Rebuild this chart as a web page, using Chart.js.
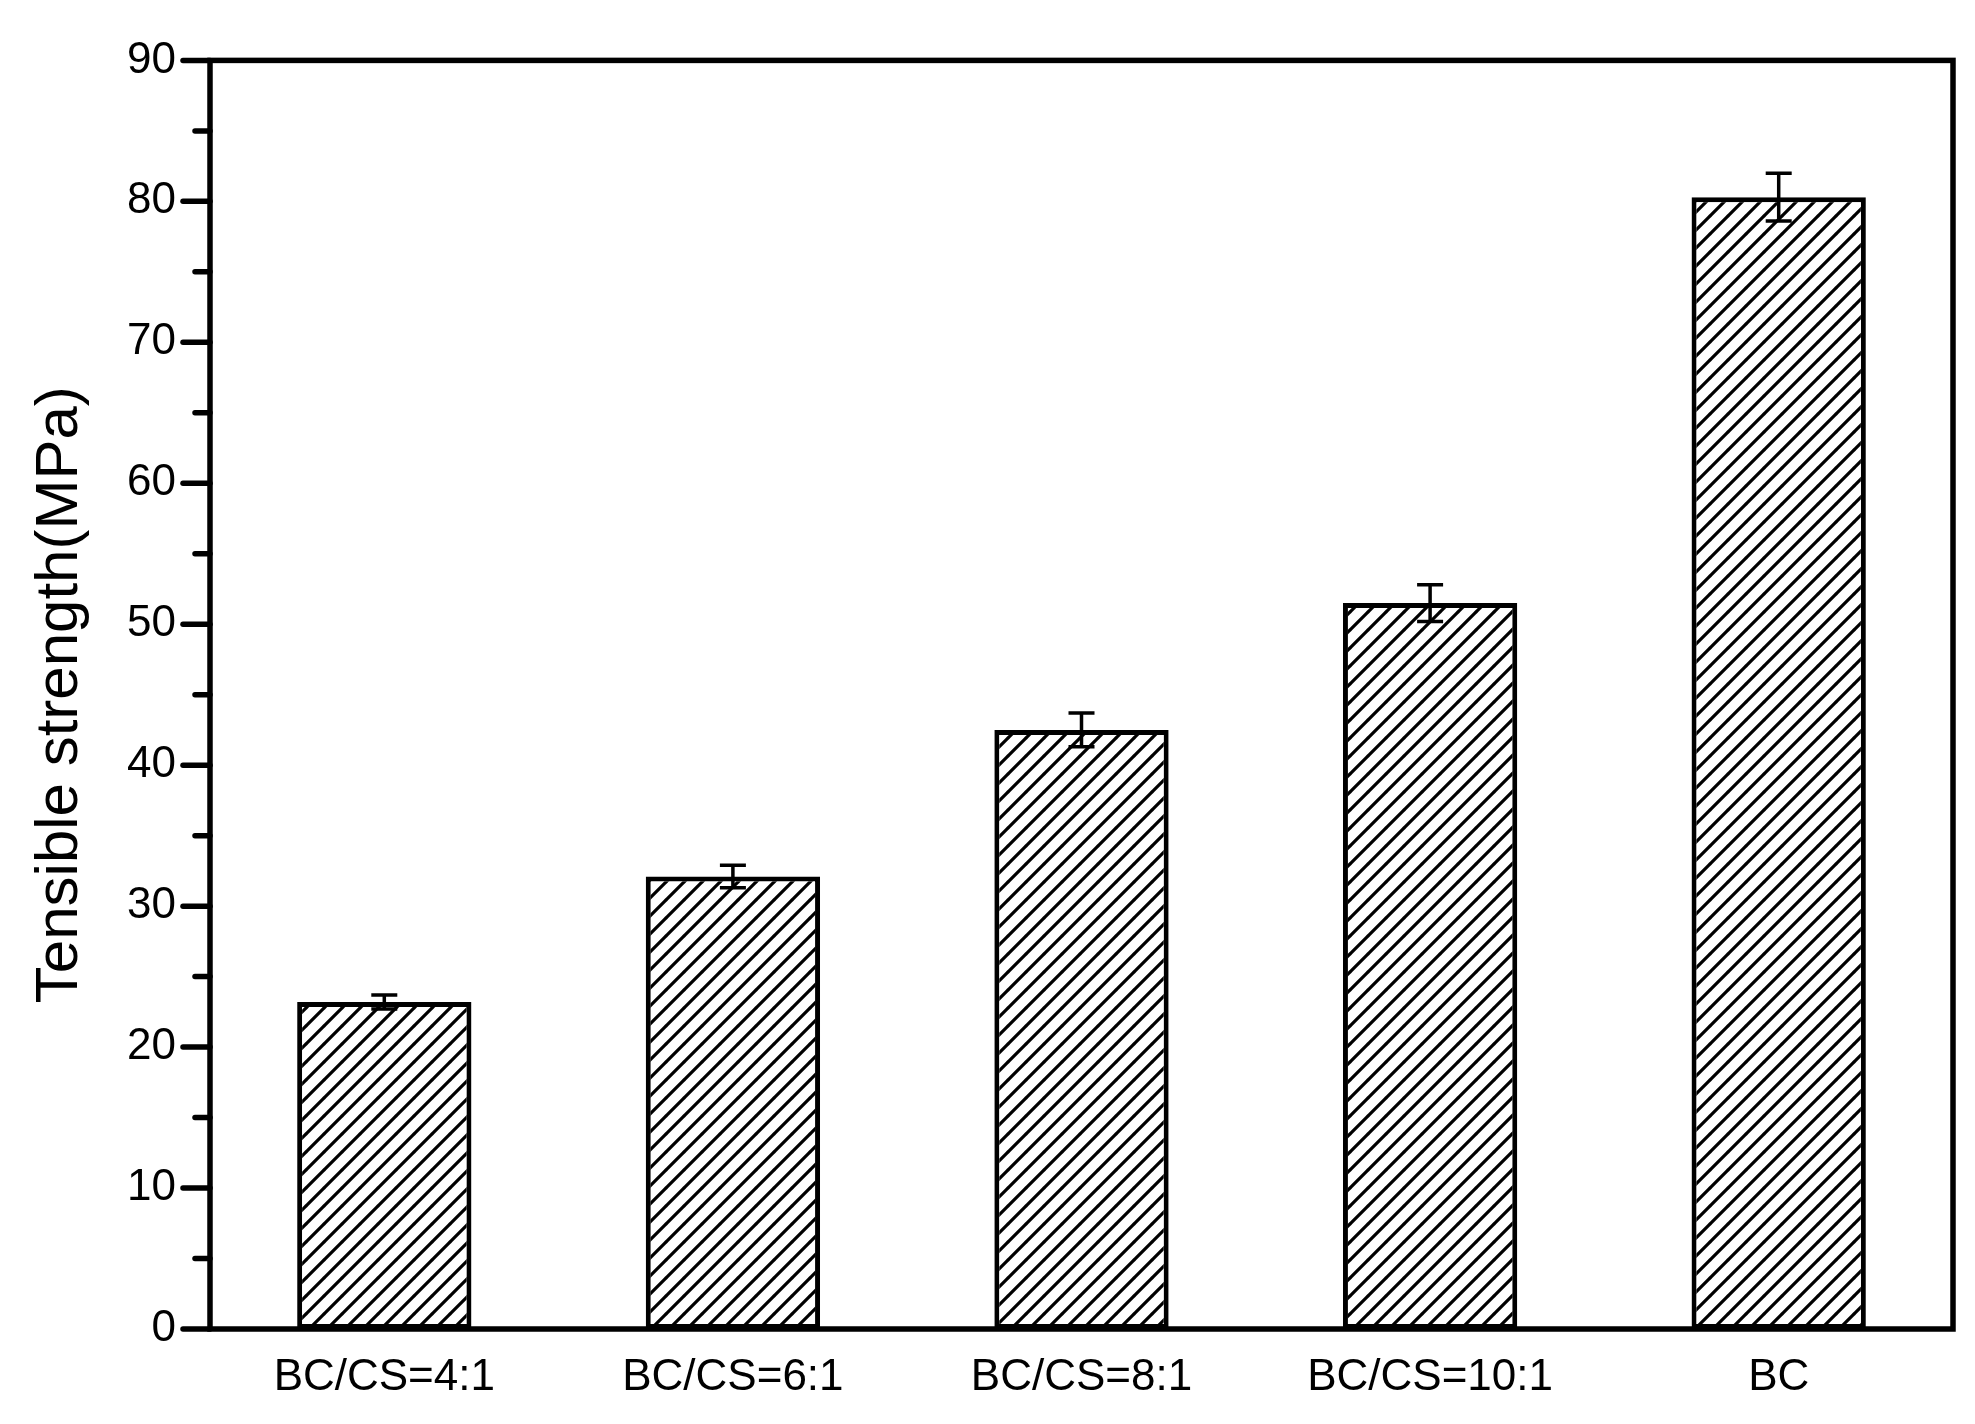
<!DOCTYPE html>
<html><head><meta charset="utf-8">
<script src="https://cdn.jsdelivr.net/npm/chart.js@4"></script>
<style>html,body{margin:0;padding:0;background:#fff}#wrap{width:1975px;height:1424px}</style>
</head><body><div id="wrap"><canvas id="c" width="1975" height="1424"></canvas></div>
<script>
const categories = ['BC/CS=4:1','BC/CS=6:1','BC/CS=8:1','BC/CS=10:1','BC'];
const strength = [23.2, 32.1, 42.5, 51.5, 80.3];
const errors = [0.5, 0.8, 1.2, 1.3, 1.7];
const yTicks = [0,10,20,30,40,50,60,70,80,90];

function hatch(){
  const s=18, p=document.createElement('canvas'); p.width=s; p.height=s;
  const g=p.getContext('2d'); g.fillStyle='#fff'; g.fillRect(0,0,s,s);
  g.strokeStyle='#000'; g.lineWidth=3.2; g.lineCap='square';
  g.beginPath();
  for(const o of [-s,0,s]){ g.moveTo(o,s); g.lineTo(o+s,0); }
  g.stroke();
  return g.createPattern(p,'repeat');
}

const deco = {
  id:'deco',
  afterDatasetsDraw(chart){
    const {ctx, chartArea:a, scales:{x,y}} = chart;
    ctx.save();
    ctx.strokeStyle='#000'; ctx.lineWidth=3.5;
    const meta=chart.getDatasetMeta(0);
    meta.data.forEach((b,i)=>{
      const cx=b.x, t=y.getPixelForValue(strength[i]+errors[i]), bo=y.getPixelForValue(strength[i]-errors[i]);
      ctx.beginPath();
      ctx.moveTo(cx,t); ctx.lineTo(cx,bo);
      ctx.moveTo(cx-13,t); ctx.lineTo(cx+13,t);
      ctx.moveTo(cx-13,bo); ctx.lineTo(cx+13,bo);
      ctx.stroke();
    });
    ctx.lineWidth=5.5;
    ctx.strokeRect(a.left,a.top,a.right-a.left,a.bottom-a.top);
    ctx.lineCap='round';
    for(let v=0; v<=90; v+=5){
      const py=y.getPixelForValue(v), len = v%10===0 ? 27 : 15;
      ctx.beginPath(); ctx.moveTo(a.left,py); ctx.lineTo(a.left-len,py); ctx.stroke();
    }
    ctx.restore();
  }
};

new Chart(document.getElementById('c'),{
  type:'bar',
  data:{labels:categories,datasets:[{data:strength,backgroundColor:hatch(),borderColor:'#000',borderWidth:5,borderSkipped:false,barPercentage:0.5,categoryPercentage:1}]},
  options:{
    responsive:false, animation:false,
    layout:{padding:{top:40,right:22,bottom:0,left:0}},
    plugins:{legend:{display:false},tooltip:{enabled:false}},
    scales:{
      x:{grid:{display:false,drawTicks:false},border:{display:false},
         afterFit(s){s.height=95;},
         ticks:{color:'#000',font:{family:'Liberation Sans',size:44},padding:22}},
      y:{min:0,max:90,afterBuildTicks(s){s.ticks=yTicks.map(v=>({value:v}));},
         afterFit(s){s.width=210;},
         grid:{display:false,drawTicks:false},border:{display:false},
         ticks:{color:'#000',font:{family:'Liberation Sans',size:44},padding:34},
         title:{display:true,text:'Tensible strength(MPa)',color:'#000',font:{family:'Liberation Sans',size:60},padding:{top:24,bottom:0}}}
    }
  },
  plugins:[deco]
});
</script></body></html>
